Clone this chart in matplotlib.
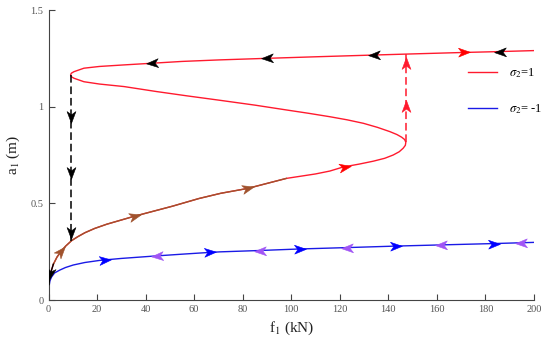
import numpy as np
import matplotlib
matplotlib.use("Agg")
import matplotlib.pyplot as plt
from matplotlib.markers import MarkerStyle
from matplotlib.path import Path
from matplotlib.transforms import Affine2D

plt.rcParams['font.family'] = ['Liberation Serif', 'DejaVu Serif']
plt.rcParams['mathtext.fontset'] = 'stix'

# sigma2 = 1 : lower, middle and upper branches (f1 in kN, a1 in m)
low_f = [0, 0.05, 0.2, 0.5, 1.0, 2.0, 3.5, 5.2, 7.0, 9.5, 12, 15, 19, 24,
         35, 51, 62, 71, 82, 98, 110, 115.9, 121.4, 128, 133.8, 138.5, 142,
         144.5, 146.1, 147.0, 147.2]
low_a = [0, 0.04, 0.08, 0.115, 0.145, 0.185, 0.222, 0.252, 0.278, 0.307,
         0.327, 0.348, 0.370, 0.392, 0.432, 0.485, 0.525, 0.552, 0.577,
         0.629, 0.652, 0.667, 0.688, 0.703, 0.718, 0.733, 0.75, 0.767, 0.785,
         0.80, 0.816]
mid_f = [146.7, 145.5, 143.5, 140.6, 135.5, 129.7, 123, 115.9, 107, 98, 85,
         70.6, 57, 44.6, 31.1, 21, 14.6, 10.5, 9.4, 9.1]
mid_a = [0.830, 0.842, 0.856, 0.871, 0.893, 0.914, 0.932, 0.948, 0.966,
         0.983, 1.008, 1.033, 1.056, 1.078, 1.104, 1.117, 1.129, 1.147,
         1.155, 1.164]
up_f = [9.4, 10.5, 14.6, 21, 31.1, 41.8, 55, 70.6, 90, 110, 133.8, 153,
        170, 186, 200]
up_a = [1.173, 1.181, 1.199, 1.208, 1.216, 1.224, 1.234, 1.242, 1.250,
        1.258, 1.267, 1.274, 1.280, 1.285, 1.290]

# sigma2 = -1
blue_f = [0, 0.05, 0.2, 0.6, 1.3, 2.5, 4.7, 7, 10.2, 15, 21.2, 30, 43.2, 55,
          62.4, 70.6, 87, 103.6, 122.8, 143.4, 161.8, 183.6, 200]
blue_a = [0, 0.035, 0.069, 0.10, 0.12, 0.140, 0.155, 0.168, 0.181, 0.194,
          0.205, 0.215, 0.227, 0.237, 0.243, 0.249, 0.256, 0.264, 0.271,
          0.279, 0.285, 0.292, 0.298]

# jumps
jump_down_f = 9.3
jump_down_a = [1.164, 0.307]
jump_down_heads = [0.944, 0.657, 0.346]
jump_up_f = 147.2
jump_up_a = [0.816, 1.274]
jump_up_heads = [1.003, 1.226]

# direction arrows on the branches
up_arrow_f = [42.7, 90, 134, 171, 186]
up_arrow_dir = [-1, -1, -1, 1, -1]
up_arrow_col = ['black', 'black', 'black', 'red', 'black']
low_arrow_f = [0.8, 5.3, 35.5, 82, 122]
low_arrow_dir = [-1, 1, 1, 1, 1]
low_arrow_col = ['black', '#A0522D', '#A0522D', '#A0522D', 'red']
blue_arrow_f = [23.3, 44.5, 66.5, 87, 103.5, 122.8, 143, 161.8, 183.6, 194.7]
blue_arrow_dir = [1, -1, 1, -1, 1, -1, 1, -1, 1, -1]
blue_arrow_col = ['#0000FF', '#A155F5'] * 5

fig = plt.figure(figsize=(5.5, 3.47), dpi=100)
ax = fig.add_axes([48.5 / 550, 47 / 347, 485.5 / 550, 290 / 347])
ax.set_xlim(0, 200)
ax.set_ylim(0, 1.5)

red_f = low_f + mid_f + up_f
red_a = low_a + mid_a + up_a
l1, = ax.plot(red_f, red_a, color='#FF1A2E', lw=1.0, zorder=2)
l2, = ax.plot(blue_f, blue_a, color='#1A1AE6', lw=1.0, zorder=2)

lf = np.array(low_f)
la = np.array(low_a)
m = (la >= 0.185) & (lf <= 98)
ax.plot(lf[m], la[m], color='#A0522D', lw=1.0, zorder=3)
m = (la >= 0.08) & (la <= 0.185)
ax.plot(lf[m], la[m], color='black', lw=1.0, zorder=3)

ax.plot([jump_down_f] * 2, jump_down_a, color='black', lw=1.1,
        ls=(0, (5, 2.5)), zorder=3)
ax.plot([jump_up_f] * 2, jump_up_a, color='#FF1A2E', lw=1.1,
        ls=(0, (5, 2.5)), zorder=3)

head_path = Path([(1, 0), (-1, 0.75), (-0.45, 0), (-1, -0.75), (1, 0)],
                 [Path.MOVETO, Path.LINETO, Path.LINETO, Path.LINETO,
                  Path.CLOSEPOLY])


def head(x, y, ang, col, ms=8.5):
    mk = MarkerStyle(head_path, transform=Affine2D().rotate_deg(ang))
    ax.plot([x], [y], marker=mk, ms=ms, color=col, mec=col, mew=0.4,
            ls='none', zorder=5)


def branch_heads(xs, ys, fs, dirs, cols):
    for f, d, c in zip(fs, dirs, cols):
        a = np.interp(f, xs, ys)
        a2 = np.interp(f + 0.3 * d, xs, ys)
        p1 = ax.transData.transform((f, a))
        p2 = ax.transData.transform((f + 0.3 * d, a2))
        ang = np.degrees(np.arctan2(p2[1] - p1[1], p2[0] - p1[0]))
        head(f, a, ang, c)


branch_heads(up_f, up_a, up_arrow_f, up_arrow_dir, up_arrow_col)
branch_heads(low_f, low_a, low_arrow_f, low_arrow_dir, low_arrow_col)
branch_heads(blue_f, blue_a, blue_arrow_f, blue_arrow_dir, blue_arrow_col)
for a in jump_down_heads:
    head(jump_down_f, a, -90, 'black')
for a in jump_up_heads:
    head(jump_up_f, a, 90, '#FF1A2E')

for s in ['top', 'right']:
    ax.spines[s].set_visible(False)
for s in ['left', 'bottom']:
    ax.spines[s].set_color('#444444')
    ax.spines[s].set_linewidth(0.8)

ax.set_xticks(range(0, 201, 20))
ax.set_yticks([0, 0.5, 1, 1.5])
ax.set_yticklabels(['0', '0.5', '1', '1.5'])
ax.tick_params(direction='in', length=4, width=0.8, color='#444444',
               labelcolor='#555555', labelsize=7.5)

ax.set_xlabel(r'f$_1$ (kN)', fontsize=11, color='#222222', labelpad=4)
ax.set_ylabel(r'a$_1$ (m)', fontsize=11, color='#222222', labelpad=6)

ax.legend([l1, l2], [r'$\sigma_2$=1', r'$\sigma_2$= -1'], frameon=False,
          loc='upper left', bbox_to_anchor=(468 / 550, 1 - 66 / 347),
          bbox_transform=fig.transFigure, borderpad=0, borderaxespad=0,
          handlelength=2.3, handletextpad=1.0, labelspacing=1.8,
          fontsize=9)

fig.savefig('out.png', dpi=100)
